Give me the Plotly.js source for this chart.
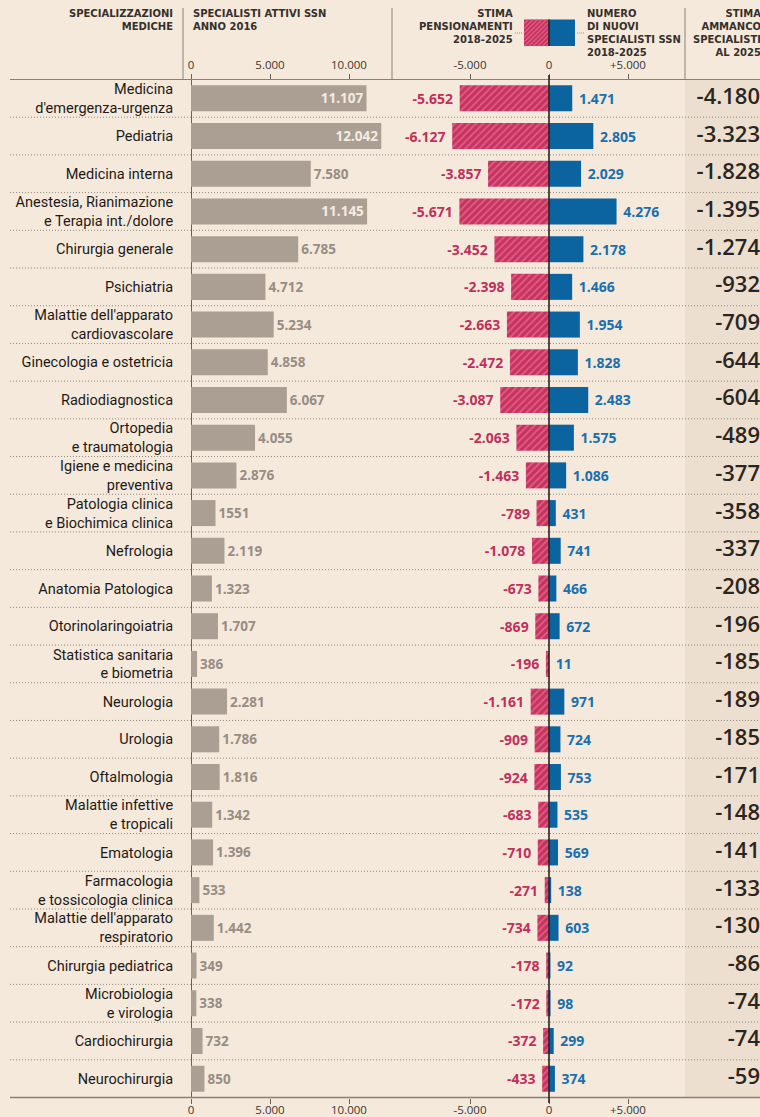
<!DOCTYPE html>
<html>
<head>
<meta charset="utf-8">
<script src="https://cdn.plot.ly/plotly-3.0.1.min.js"></script>
<style>
  html, body { margin: 0; padding: 0; background: #f5e9dc; }
  #chart { width: 760px; height: 1117px; }
</style>
</head>
<body>
<div id="chart"></div>
<script>
// ---------------- DATA ----------------
const categories = [
  "Medicina<br>d'emergenza-urgenza",
  "Pediatria",
  "Medicina interna",
  "Anestesia, Rianimazione<br>e Terapia int./dolore",
  "Chirurgia generale",
  "Psichiatria",
  "Malattie dell'apparato<br>cardiovascolare",
  "Ginecologia e ostetricia",
  "Radiodiagnostica",
  "Ortopedia<br>e traumatologia",
  "Igiene e medicina<br>preventiva",
  "Patologia clinica<br>e Biochimica clinica",
  "Nefrologia",
  "Anatomia Patologica",
  "Otorinolaringoiatria",
  "Statistica sanitaria<br>e biometria",
  "Neurologia",
  "Urologia",
  "Oftalmologia",
  "Malattie infettive<br>e tropicali",
  "Ematologia",
  "Farmacologia<br>e tossicologia clinica",
  "Malattie dell'apparato<br>respiratorio",
  "Chirurgia pediatrica",
  "Microbiologia<br>e virologia",
  "Cardiochirurgia",
  "Neurochirurgia"
];
const attivi2016 = [11107, 12042, 7580, 11145, 6785, 4712, 5234, 4858, 6067, 4055, 2876, 1551, 2119, 1323, 1707, 386, 2281, 1786, 1816, 1342, 1396, 533, 1442, 349, 338, 732, 850];
const attiviLabels = ["11.107","12.042","7.580","11.145","6.785","4.712","5.234","4.858","6.067","4.055","2.876","1551","2.119","1.323","1.707","386","2.281","1.786","1.816","1.342","1.396","533","1.442","349","338","732","850"];
const pensionamenti = [-5652, -6127, -3857, -5671, -3452, -2398, -2663, -2472, -3087, -2063, -1463, -789, -1078, -673, -869, -196, -1161, -909, -924, -683, -710, -271, -734, -178, -172, -372, -433];
const nuovi = [1471, 2805, 2029, 4276, 2178, 1466, 1954, 1828, 2483, 1575, 1086, 431, 741, 466, 672, 11, 971, 724, 753, 535, 569, 138, 603, 92, 98, 299, 374];
const ammanco = [-4180, -3323, -1828, -1395, -1274, -932, -709, -644, -604, -489, -377, -358, -337, -208, -196, -185, -189, -185, -171, -148, -141, -133, -130, -86, -74, -74, -59];

const leftTickVals = [0, 5000, 10000];
const leftTickText = ["0", "5.000", "10.000"];
const midTickVals = [-5000, 0, 5000];
const midTickText = ["-5.000", "0", "+5.000"];

const headers = [
  { text: "SPECIALIZZAZIONI<br>MEDICHE", x: 174, anchor: "right" },
  { text: "SPECIALISTI ATTIVI SSN<br>ANNO 2016", x: 192, anchor: "left" },
  { text: "STIMA<br>PENSIONAMENTI<br>2018-2025", x: 514, anchor: "right" },
  { text: "NUMERO<br>DI NUOVI<br>SPECIALISTI SSN<br>2018-2025", x: 586, anchor: "left" },
  { text: "STIMA<br>AMMANCO<br>SPECIALISTI<br>AL 2025", x: 762, anchor: "right" }
];

// ---------------- HELPERS ----------------
const W = 760, H = 1117;
const px = x => x / W;
const py = y => 1 - y / H;
const K = 79 / 5000; // pixels per unit
function fmt(v) {
  const s = Math.abs(v).toString().replace(/\B(?=(\d{3})+(?!\d))/g, ".");
  return (v < 0 ? "-" : "") + s;
}

const PINK = "#c8325f", PINK_LIGHT = "#dd5d86", BLUE = "#0b63a0";
const NUMFONT = "Open Sans, Lato, sans-serif";

const traces = [
  {
    type: "bar", orientation: "h", xaxis: "x", yaxis: "y",
    y: categories, x: attivi2016,
    width: 0.69,
    marker: { color: "#ab9f93", line: { width: 0 } },
    text: attiviLabels,
    textposition: attivi2016.map(v => v > 10000 ? "inside" : "outside"),
    insidetextanchor: "end",
    insidetextfont: { family: NUMFONT, size: 13.5, weight: 700, color: "#f4ece3" },
    outsidetextfont: { family: NUMFONT, size: 13.5, weight: 700, color: "#978d84" },
    constraintext: "none", cliponaxis: false, hoverinfo: "skip"
  },
  {
    type: "bar", orientation: "h", xaxis: "x2", yaxis: "y",
    y: categories, x: pensionamenti,
    width: 0.69,
    marker: {
      color: PINK, line: { width: 0 },
      pattern: { shape: "/", fillmode: "replace", bgcolor: PINK, fgcolor: PINK_LIGHT, size: 5, solidity: 0.35 }
    },
    text: pensionamenti.map(v => fmt(v) + " "),
    textposition: "outside",
    outsidetextfont: { family: NUMFONT, size: 14, weight: 700, color: "#c0305c" },
    constraintext: "none", cliponaxis: false, hoverinfo: "skip"
  },
  {
    type: "bar", orientation: "h", xaxis: "x2", yaxis: "y",
    y: categories, x: nuovi,
    width: 0.69,
    marker: { color: BLUE, line: { width: 0 } },
    text: nuovi.map(v => " " + fmt(v)),
    textposition: "outside",
    outsidetextfont: { family: NUMFONT, size: 14, weight: 700, color: "#1a70ad" },
    constraintext: "none", cliponaxis: false, hoverinfo: "skip"
  },
  {
    type: "scatter", mode: "text", xaxis: "x4", yaxis: "y",
    y: categories, x: categories.map(() => 1),
    text: ammanco.map(fmt),
    textposition: "middle left",
    textfont: { family: NUMFONT, size: 22, weight: 600, color: "#2b2521" },
    cliponaxis: false, hoverinfo: "skip"
  },
  // invisible copies so that the top axes (overlaying) are drawn
  {
    type: "bar", orientation: "h", xaxis: "x3", yaxis: "y",
    y: categories, x: attivi2016, width: 0.69,
    marker: { color: "rgba(0,0,0,0)" }, hoverinfo: "skip"
  },
  {
    type: "bar", orientation: "h", xaxis: "x5", yaxis: "y",
    y: categories, x: pensionamenti, width: 0.69,
    marker: { color: "rgba(0,0,0,0)" }, hoverinfo: "skip"
  }
];

const tickFont = { family: NUMFONT, size: 11.5, color: "#3a3530" };
const leftRange = [0, (385 - 191) / K];
const midRange = [-(549 - 400) / K, (680 - 549) / K];
const axisCommon = {
  tickmode: "array", ticks: "outside", ticklen: 5, tickwidth: 1, tickcolor: "#6b625a",
  showgrid: false, showline: false, tickfont: tickFont, fixedrange: true
};

const shapes = [];
// right column background
shapes.push({ type: "rect", xref: "paper", yref: "paper", x0: px(685), x1: 1, y0: py(1097), y1: py(79),
  fillcolor: "#ecdfcf", line: { width: 0 }, layer: "below" });
// row separators (dotted)
for (let i = 0; i < categories.length - 1; i++) {
  shapes.push({ type: "line", xref: "paper", yref: "y", x0: px(10), x1: 1, y0: i + 0.5, y1: i + 0.5,
    line: { color: "#8f867d", width: 1, dash: "1px,2px" }, layer: "below" });
}
// top and bottom rules
shapes.push({ type: "line", xref: "paper", yref: "paper", x0: px(10), x1: 1, y0: py(79.5), y1: py(79.5),
  line: { color: "#8a8078", width: 1.2 } });
shapes.push({ type: "line", xref: "paper", yref: "paper", x0: px(10), x1: 1, y0: py(1097.5), y1: py(1097.5),
  line: { color: "#8a8078", width: 1.5 } });
// header separators
[183, 392, 685].forEach(x => shapes.push({ type: "line", xref: "paper", yref: "paper",
  x0: px(x), x1: px(x), y0: py(8), y1: py(79.5), line: { color: "#8a8078", width: 1 } }));
// middle zero line
shapes.push({ type: "line", xref: "x2", yref: "paper", x0: 0, x1: 0, y0: py(1103), y1: py(75),
  line: { color: "#2a2420", width: 1.6 }, layer: "above" });
// legend swatch
function stripes(x0, y0, w, h, s) {
  let d = "";
  for (let c = -h; c < w; c += s) {
    const t0 = Math.max(0, -c), t1 = Math.min(h, w - c);
    if (t1 <= t0) continue;
    d += `M${px(x0 + c + t0)},${py(y0 + h - t0)} L${px(x0 + c + t1)},${py(y0 + h - t1)} `;
  }
  return d;
}
shapes.push({ type: "rect", xref: "paper", yref: "paper", x0: px(524), x1: px(549), y0: py(46), y1: py(19.5),
  fillcolor: PINK, line: { width: 0 } });
shapes.push({ type: "path", xref: "paper", yref: "paper", path: stripes(524, 19.5, 25, 26.5, 4.5),
  line: { color: PINK_LIGHT, width: 1.3 } });
shapes.push({ type: "rect", xref: "paper", yref: "paper", x0: px(549), x1: px(575), y0: py(46), y1: py(19.5),
  fillcolor: BLUE, line: { width: 0 } });
shapes.push({ type: "line", xref: "paper", yref: "paper", x0: px(549), x1: px(549), y0: py(46), y1: py(19.5),
  line: { color: "#2a2420", width: 1.6 } });
shapes.push({ type: "line", xref: "paper", yref: "paper", x0: px(515), x1: px(522), y0: py(33), y1: py(33),
  line: { color: "#9a9088", width: 1, dash: "1px,1px" } });
shapes.push({ type: "line", xref: "paper", yref: "paper", x0: px(577), x1: px(584), y0: py(33), y1: py(33),
  line: { color: "#9a9088", width: 1, dash: "1px,1px" } });

const headFont = { family: "DejaVu Sans, sans-serif", size: 10, weight: 700, color: "#35302b" };
const annotations = headers.map(h => ({
  text: h.text, xref: "paper", yref: "paper", x: px(h.x), y: py(7),
  xanchor: h.anchor, yanchor: "top", align: h.anchor, showarrow: false, font: headFont, borderpad: 0
}));

const layout = {
  width: W, height: H,
  margin: { l: 0, r: 0, t: 0, b: 0 },
  paper_bgcolor: "#f5e9dc",
  plot_bgcolor: "rgba(0,0,0,0)",
  showlegend: false,
  hovermode: false,
  barmode: "relative",
  separators: ",.",
  xaxis: Object.assign({}, axisCommon, {
    domain: [px(191), px(385)], range: leftRange, anchor: "y", side: "bottom",
    tickvals: leftTickVals, ticktext: leftTickText, ticklabelstandoff: -3,
    zeroline: true, zerolinecolor: "#6b625a", zerolinewidth: 1
  }),
  xaxis3: Object.assign({}, axisCommon, {
    overlaying: "x", range: leftRange, anchor: "y", side: "top",
    tickvals: leftTickVals, ticktext: leftTickText, zeroline: false
  }),
  xaxis2: Object.assign({}, axisCommon, {
    domain: [px(400), px(680)], range: midRange, anchor: "y", side: "bottom",
    tickvals: midTickVals, ticktext: midTickText, ticklabelstandoff: -3, zeroline: false
  }),
  xaxis5: Object.assign({}, axisCommon, {
    overlaying: "x2", range: midRange, anchor: "y", side: "top",
    tickvals: midTickVals, ticktext: midTickText, zeroline: false
  }),
  xaxis4: {
    domain: [px(686), px(760)], range: [0, 1], anchor: "y", visible: false, fixedrange: true
  },
  yaxis: {
    domain: [py(1097.5), py(79.5)], type: "category", range: [categories.length - 0.5, -0.5],
    anchor: "x", showgrid: false, zeroline: false, showline: false,
    ticks: "outside", ticklen: 14, tickcolor: "rgba(0,0,0,0)",
    tickfont: { family: "Roboto, sans-serif", size: 14.5, color: "#1e1a17" },
    fixedrange: true
  },
  shapes, annotations
};

Plotly.newPlot("chart", traces, layout, { staticPlot: true, displayModeBar: false });
</script>
</body>
</html>
